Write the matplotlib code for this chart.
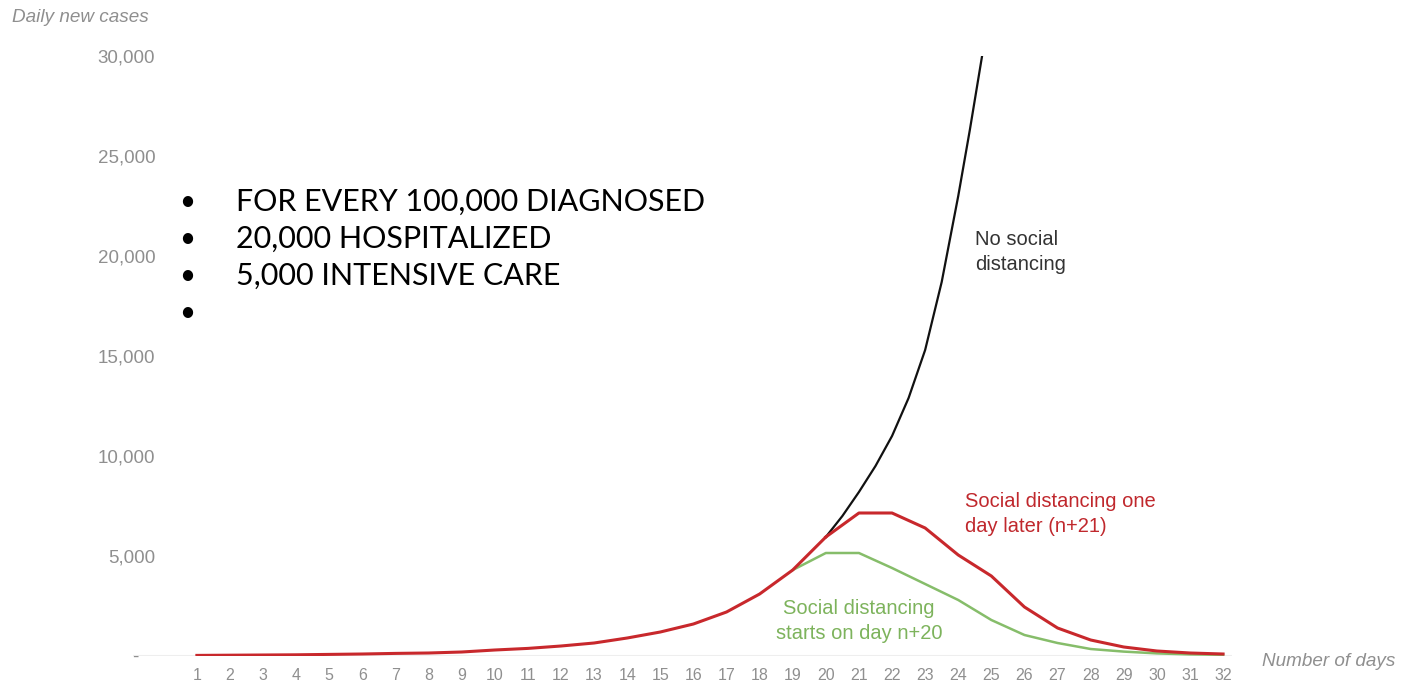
import numpy as np
import matplotlib
matplotlib.use('Agg')
import matplotlib.pyplot as plt

# Values
days_common = [1, 2, 3, 4, 5, 6, 7, 8, 9, 10, 11, 12, 13, 14, 15, 16, 17, 18, 19, 20]
cases_common = [30, 40, 50, 60, 80, 100, 130, 150, 200, 300, 380, 500, 650, 900, 1200,
                1600, 2200, 3100, 4300, 5950]

days_none = [20, 20.5, 21, 21.5, 22, 22.5, 23, 23.5, 24, 24.35, 24.72]
cases_none = [5950, 7000, 8200, 9500, 11000, 12900, 15300, 18700, 23000, 26300, 30000]

days_late = [20, 21, 22, 23, 24, 25, 26, 27, 28, 29, 30, 31, 32]
cases_late = [5950, 7150, 7150, 6400, 5050, 4000, 2450, 1400, 800, 450, 250, 150, 100]

days_early = [19, 20, 21, 22, 23, 24, 25, 26, 27, 28, 29, 30, 31, 32]
cases_early = [4300, 5150, 5150, 4400, 3600, 2800, 1800, 1050, 650, 350, 220, 130, 80, 60]

y_ticks = [0, 5000, 10000, 15000, 20000, 25000, 30000]
y_labels = ['-   ', '5,000', '10,000', '15,000', '20,000', '25,000', '30,000']
x_ticks = list(range(1, 33))

bullets = ['FOR EVERY 100,000 DIAGNOSED', '20,000 HOSPITALIZED', '5,000 INTENSIVE CARE', '']

W, H = 1402, 685
fig = plt.figure(figsize=(W / 100, H / 100), dpi=100)
ax = fig.add_axes([133 / W, 1 - 656 / H, (1232 - 133) / W, (656 - 56) / H])

RED = '#c8282c'
GREEN = '#86bd6a'
GREY = '#8f8f8f'
LABEL_FONT = ['Liberation Sans', 'DejaVu Sans']

ax.axhline(0, color='#eeeeee', linewidth=1.5, zorder=0)
ax.plot(days_none, cases_none, color='#111111', linewidth=1.6, zorder=3)
ax.plot(days_early, cases_early, color=GREEN, linewidth=1.8, zorder=4)
ax.plot(days_common, cases_common, color=RED, linewidth=2.2, zorder=5)
ax.plot(days_late, cases_late, color=RED, linewidth=2.2, zorder=5)

ax.set_xlim(-0.93, 32.27)
ax.set_ylim(0, 30000)
ax.set_xticks(x_ticks)
ax.set_xticklabels([str(d) for d in x_ticks], family=LABEL_FONT, fontsize=11.5, color=GREY)
ax.set_yticks(y_ticks)
ax.set_yticklabels(y_labels, family=LABEL_FONT, fontsize=13.5, color=GREY)
ax.tick_params(axis='y', length=0, pad=-16)
ax.tick_params(axis='x', length=0, pad=9)
for s in ax.spines.values():
    s.set_visible(False)

# curve annotations
ax.text(24.5, 20200, 'No social\ndistancing', ha='left', va='center', fontsize=14.5,
        color='#333333', family=LABEL_FONT, linespacing=1.4)
ax.text(24.2, 7100, 'Social distancing one\nday later (n+21)', ha='left', va='center',
        fontsize=14.5, color='#c0282d', family=LABEL_FONT, linespacing=1.4)
ax.text(21.0, 1750, 'Social distancing\nstarts on day n+20', ha='center', va='center',
        fontsize=14.5, color='#7db35c', family=LABEL_FONT, linespacing=1.4)

fig.text(12 / W, 1 - 18 / H, 'Daily new cases', ha='left', va='center', fontsize=13.6,
         style='italic', color=GREY, family=LABEL_FONT)
fig.text(1262 / W, 1 - 661 / H, 'Number of days', ha='left', va='center', fontsize=13.6,
         style='italic', color=GREY, family=LABEL_FONT)

# bullet list overlay
for i, line in enumerate(bullets):
    y = 1 - (202 + 37 * i) / H
    fig.text(187 / W, y, '\u2022', ha='center', va='center', fontsize=20, color='black',
             family=['Lato', 'DejaVu Sans'])
    if line:
        fig.text(236 / W, y, line, ha='left', va='center', fontsize=22, color='black',
                 family=['Lato', 'DejaVu Sans'])

fig.savefig('out.png', dpi=100)
